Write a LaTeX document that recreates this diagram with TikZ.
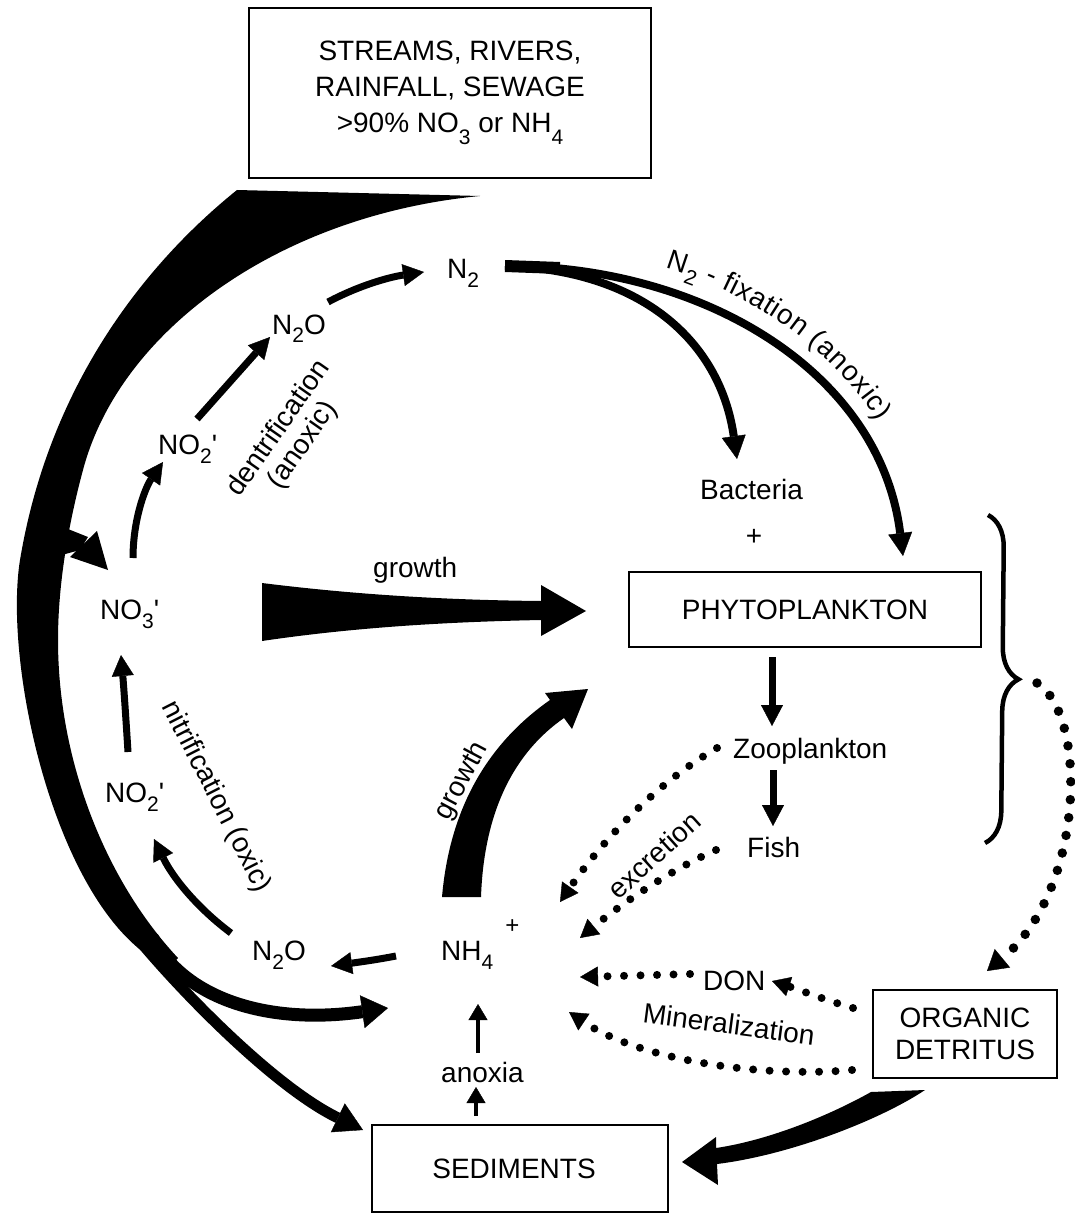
\documentclass[tikz,border=0pt]{standalone}
\usepackage{fontspec}
\setmainfont{Liberation Sans}
\usetikzlibrary{arrows.meta,decorations.pathreplacing,decorations.text}
\newcommand{\chemsub}[1]{\raisebox{-9pt}{\fontsize{21}{21}\selectfont #1}}
\newcommand{\topsub}[1]{\raisebox{-12pt}{\fontsize{21}{21}\selectfont #1}}
\newcommand{\lblfont}{\fontsize{28}{31}\selectfont}
\begin{document}
\begin{tikzpicture}[x=1pt,y=-1pt,
  lbl/.style={font=\lblfont, inner sep=0pt},
  boxnode/.style={draw, line width=1.6pt, font=\lblfont, align=center, inner sep=0pt},
  flowarrow/.style={line width=7pt, -{Triangle[length=21pt,width=22pt,line width=0.4pt]}},
  thinflow/.style={line width=4.5pt, -{Triangle[length=16pt,width=19pt,line width=0.4pt]}},
  fixarrow/.style={line width=8pt, -{Triangle[length=23pt,width=24pt,line width=0.4pt]}},
  dotflow/.style={line width=8pt, line cap=round, dash pattern=on 0pt off 16.5pt, -{Triangle[length=18pt,width=20pt,line width=0.4pt]}},
]
\useasboundingbox (0,0) rectangle (1074,1214);

% ---------- boxes ----------
\node[boxnode, minimum width=402pt, minimum height=170pt, font=\fontsize{28}{36}\selectfont] (src) at (450,93)
  {STREAMS, RIVERS,\\RAINFALL, SEWAGE\\>90\% NO\topsub{3} or NH\topsub{4}};
\node[boxnode, minimum width=352pt, minimum height=75pt] (phyto) at (805,609.5) {PHYTOPLANKTON};
\node[boxnode, minimum width=184pt, minimum height=88pt, font=\fontsize{28}{32}\selectfont] (detr) at (965,1034) {ORGANIC\\DETRITUS};
\node[boxnode, minimum width=296pt, minimum height=87pt] (sed) at (520,1168.5) {SEDIMENTS\hspace{12pt}};

% ---------- labels ----------
\node[lbl, anchor=base west] (n2) at (447,279) {N\chemsub{2}};
\node[lbl, anchor=base west] (n2oup) at (272,334) {N\chemsub{2}O};
\node[lbl, anchor=base west] (no2up) at (158,454) {NO\chemsub{2}\textquotesingle};
\node[lbl, anchor=base west] (no3) at (100,619) {NO\chemsub{3}\textquotesingle};
\node[lbl, anchor=base west] (no2lo) at (105,802) {NO\chemsub{2}\textquotesingle};
\node[lbl, anchor=base west] (n2olo) at (252,960) {N\chemsub{2}O};
\node[lbl, anchor=base west] (nh4) at (441,960) {NH\chemsub{4}\kern12pt\raisebox{27pt}{\fontsize{24}{24}\selectfont +}};
\node[lbl, anchor=base west] (bact) at (700,499) {Bacteria};
\node[lbl] (plus) at (754,537) {+};
\node[lbl, anchor=base west] (zoo) at (733,758) {Zooplankton};
\node[lbl, anchor=base west] (fish) at (747,857) {Fish};
\node[lbl, anchor=base west] (don) at (703,990) {DON};
\node[lbl, anchor=base west] (anox) at (441,1082) {anoxia};
\node[lbl, anchor=base west] (grow1) at (373,577) {growth};
\node[lbl, rotate=55, align=center, font=\fontsize{28}{29}\selectfont] (dentr) at (291,437) {dentrification\\(anoxic)};
\node[lbl, rotate=-63] (nitr) at (216,797) {nitrification (oxic)};
\node[lbl, rotate=62] (grow2) at (462,781) {growth};
\node[lbl, rotate=42] (excr) at (654,855) {excretion};
\node[lbl, rotate=-7.5] (miner) at (729,1024) {Mineralization};

% ---------- connector end points ----------
\coordinate (srcflow) at (480,196);
\coordinate (n2out) at (505,266);
\coordinate (n2split) at (560,268);
\coordinate (phytotop) at (903,556);
\coordinate (bacttop) at (737,459);
\coordinate (n2oA) at (328,302);   \coordinate (n2in) at (424,272);
\coordinate (no2A) at (197,419);   \coordinate (n2oupin) at (270,337);
\coordinate (no3A) at (133,558);   \coordinate (no2upin) at (163,462);
\coordinate (no2B) at (128,752);   \coordinate (no3in) at (121,655);
\coordinate (n2oB) at (231,933);   \coordinate (no2loin) at (154,839);
\coordinate (nh4A) at (396,956);   \coordinate (n2oloin) at (331,966);
\coordinate (nh4left) at (388,1008);
\coordinate (sedleft) at (363,1130);
\coordinate (phytobot) at (772,657); \coordinate (zooin) at (772,726);
\coordinate (zooB) at (773,770);   \coordinate (fishin) at (773,826);
\coordinate (sedtop) at (476,1116); \coordinate (anoxin) at (476,1087);
\coordinate (anoxtop) at (478,1053); \coordinate (nh4bot) at (478,1004);
\coordinate (zoodot) at (717,748); \coordinate (nh4r1) at (560,902);
\coordinate (fishdot) at (716,850); \coordinate (nh4r2) at (580,938);
\coordinate (dondot) at (690,974); \coordinate (nh4r3) at (580,977);
\coordinate (detrA) at (853,1008); \coordinate (donin) at (772,981);
\coordinate (detrB) at (852,1070); \coordinate (nh4r4) at (569,1012);
\coordinate (bracetip) at (1037,683); \coordinate (detrtop) at (987,971);

% ---------- big inflow wedge ----------
\fill (srcflow) -- (237,190) .. controls (150,260) and (50,380) .. (20,560)
  .. controls (4,660) and (50,880) .. (143,952) -- (165,972) -- (178,958)
  .. controls (105,880) and (58,760) .. (58,640)
  .. controls (58,580) and (70,518) .. (83,470)
  .. controls (120,330) and (280,215) .. (srcflow) -- cycle;
% branch into NO3'
\fill (58,525) -- (88,537) -- (80,550) -- (58,556) -- cycle;
\fill (70,557) -- (97,531) -- (108,570) -- cycle;
% branch to NH4
\draw[line width=13pt, -{Triangle[length=26pt,width=33pt,line width=0.4pt]}]
  (152,937) .. controls (185,1000) and (270,1025) .. (nh4left);
% branch to sediments
\draw[line width=11pt, -{Triangle[length=28pt,width=32pt,line width=0.4pt]}]
  (123,920) .. controls (165,975) and (270,1085) .. (sedleft);

% ---------- growth wedge NO3' -> phytoplankton ----------
\fill (262,583) .. controls (350,594) and (440,600) .. (541,601) -- (541,585) -- (586,611)
  -- (541,636) -- (541,620) .. controls (440,622) and (350,628) .. (262,641) -- cycle;

% ---------- growth NH4 -> phytoplankton ----------
\fill (442,897) .. controls (450,805) and (490,742) .. (550,700) -- (545,693) -- (588,689)
  -- (572,729) -- (564,718) .. controls (515,752) and (484,810) .. (481,897) -- cycle;

% ---------- detritus -> sediments ----------
\fill (871,1092) .. controls (830,1115) and (770,1140) .. (716,1148) -- (716,1137) -- (682,1162)
  -- (718,1185) -- (717,1164) .. controls (790,1155) and (880,1120) .. (925,1090) -- cycle;

% ---------- N2 fixation ----------
\draw[fixarrow] (n2out) .. controls (700,265) and (880,370) .. (phytotop);
\draw[fixarrow] (n2out) .. controls (640,270) and (720,340) .. (bacttop);
\draw[line width=12pt] (n2out) -- (n2split);
\path[decorate, decoration={text along path, text={|\lblfont|N{\chemsub{2}} - fixation (anoxic)}, raise=22pt, text align={left indent=156pt}}]
  (n2out) .. controls (700,265) and (880,370) .. (phytotop);

% ---------- small solid arrows ----------
\draw[flowarrow] (n2oA) .. controls (360,285) and (390,277) .. (n2in);
\draw[flowarrow] (no2A) -- (n2oupin);
\draw[flowarrow] (no3A) .. controls (133,520) and (145,488) .. (no2upin);
\draw[flowarrow] (no2B) .. controls (126,720) and (124,690) .. (no3in);
\draw[flowarrow] (n2oB) .. controls (200,910) and (174,880) .. (no2loin);
\draw[flowarrow] (nh4A) .. controls (375,960) and (360,962) .. (n2oloin);
\draw[flowarrow] (phytobot) -- (zooin);
\draw[flowarrow] (zooB) -- (fishin);
\draw[thinflow] (sedtop) -- (anoxin);
\draw[thinflow] (anoxtop) -- (nh4bot);

% ---------- dotted arrows ----------
\draw[dotflow] (zoodot) .. controls (665,778) and (610,830) .. (nh4r1);
\draw[dotflow] (fishdot) .. controls (670,870) and (620,905) .. (nh4r2);
\draw[dotflow] (dondot) -- (nh4r3);
\draw[dotflow] (detrA) .. controls (825,1000) and (800,990) .. (donin);
\draw[dotflow] (detrB) .. controls (760,1078) and (640,1060) .. (nh4r4);
\draw[dotflow, line width=9.5pt, dash pattern=on 0pt off 18pt, -{Triangle[length=20pt,width=24pt,line width=0.4pt]}]
  (bracetip) .. controls (1088,715) and (1085,890) .. (detrtop);

% ---------- brace ----------
\draw[line width=4.5pt, decorate, decoration={brace, amplitude=32pt}] (988,515) -- (985,843);
\end{tikzpicture}
\end{document}
